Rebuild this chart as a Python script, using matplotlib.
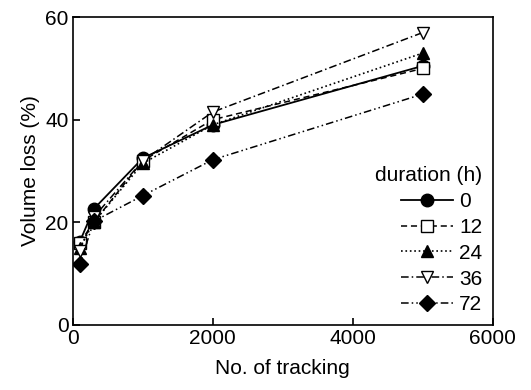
import matplotlib.pyplot as plt

plt.rcParams['font.family'] = ['Liberation Sans', 'DejaVu Sans']

tracking = [100, 300, 1000, 2000, 5000]
durations = ['0', '12', '24', '36', '72']
loss_0 = [16.2, 22.6, 32.5, 39.0, 50.5]
loss_12 = [16.0, 20.0, 32.0, 40.0, 50.0]
loss_24 = [15.0, 20.0, 31.5, 39.0, 53.0]
loss_36 = [14.5, 21.0, 32.0, 41.5, 57.0]
loss_72 = [11.8, 20.2, 25.2, 32.2, 45.0]

fs = 15

fig = plt.figure(figsize=(5.31, 3.9), dpi=100)
ax = fig.add_axes([0.137, 0.167, 0.791, 0.789])

ax.plot(tracking, loss_0, '-', color='black', marker='o', ms=9, mfc='black', lw=1.3, label=durations[0])
ax.plot(tracking, loss_12, '--', color='black', marker='s', ms=8, mfc='white', lw=1.1, dashes=(4, 2.5), label=durations[1])
ax.plot(tracking, loss_24, ':', color='black', marker='^', ms=9, mfc='black', lw=1.2, label=durations[2])
ax.plot(tracking, loss_36, '-.', color='black', marker='v', ms=9, mfc='white', lw=1.1, dashes=(5, 2, 1, 2), label=durations[3])
ax.plot(tracking, loss_72, color='black', marker='D', ms=8, mfc='black', lw=1.1, dashes=(5, 2, 1, 2, 1, 2), label=durations[4])

ax.set_xlim(0, 6000)
ax.set_ylim(0, 60)
ax.set_xticks([0, 2000, 4000, 6000])
ax.set_yticks([0, 20, 40, 60])
ax.tick_params(direction='in', labelsize=fs, length=5, width=1.2, pad=3)
for s in ax.spines.values():
    s.set_linewidth(1.2)

ax.set_xlabel('No. of tracking', fontsize=fs, labelpad=8)
ax.set_ylabel('Volume loss (%)', fontsize=fs, labelpad=4)

leg = ax.legend(title='duration (h)', loc='lower right', frameon=False, fontsize=fs,
                title_fontsize=fs, handlelength=2.5, handletextpad=0.3, labelspacing=0.33,
                borderaxespad=0.2, borderpad=0.3)
leg._legend_box.align = 'right'

fig.savefig('out.png', dpi=100)
